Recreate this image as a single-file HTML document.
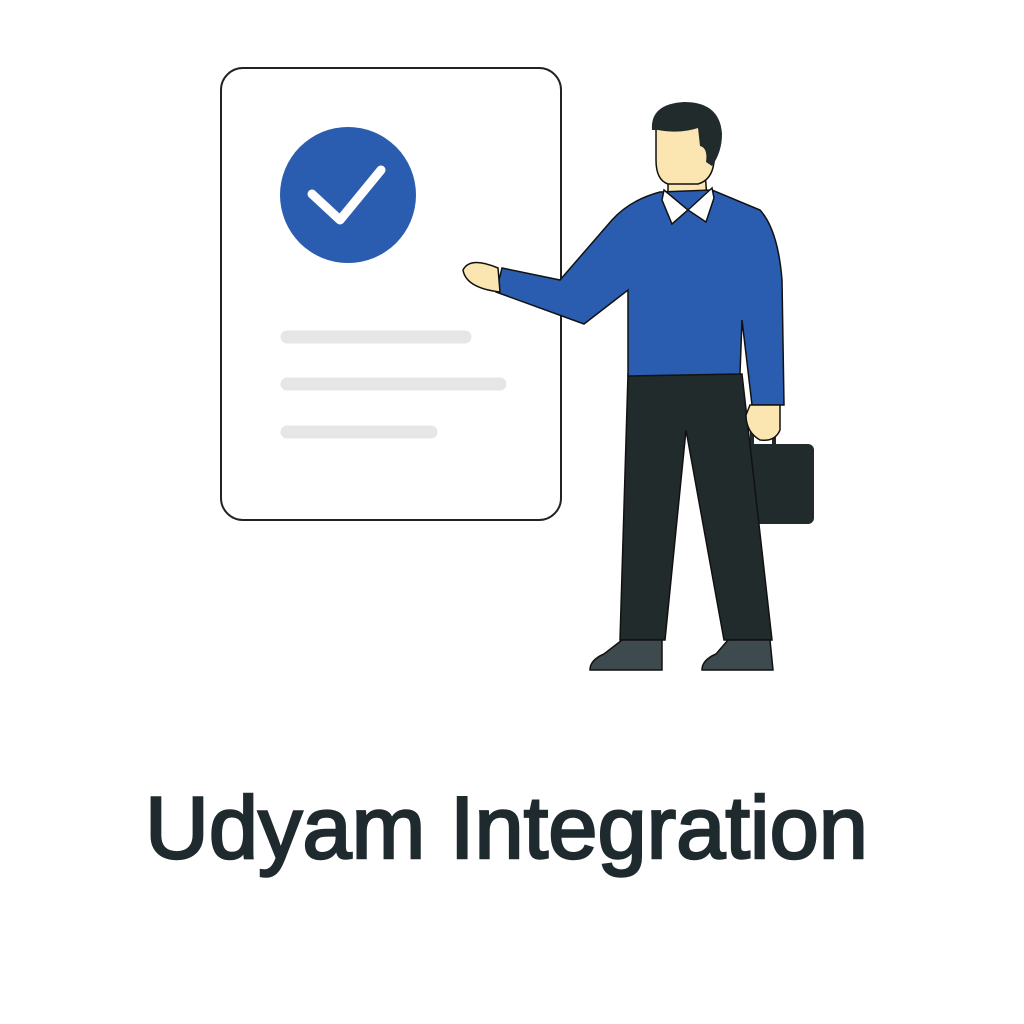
<!DOCTYPE html>
<html><head><meta charset="utf-8"><style>html,body{margin:0;padding:0;background:#fff}svg{display:block}</style></head>
<body>
<svg width="1024" height="1024" viewBox="0 0 1024 1024" xmlns="http://www.w3.org/2000/svg">
<rect width="1024" height="1024" fill="#fff"/>
<rect x="221" y="68" width="340" height="452" rx="22" fill="#fff" stroke="#222" stroke-width="2"/>
<circle cx="348" cy="195" r="68" fill="#2a5db0"/>
<polyline points="312,194 340,220 381,170" fill="none" stroke="#fff" stroke-width="9" stroke-linecap="round" stroke-linejoin="round"/>
<line x1="287" y1="337" x2="465" y2="337" stroke="#e6e6e6" stroke-width="13" stroke-linecap="round"/>
<line x1="287" y1="384" x2="500" y2="384" stroke="#e6e6e6" stroke-width="13" stroke-linecap="round"/>
<line x1="287" y1="432" x2="431" y2="432" stroke="#e6e6e6" stroke-width="13" stroke-linecap="round"/>
<path d="M752,445 L752,432 Q752,428 756,428 L770,428 Q774,428 774,432 L774,445" fill="none" stroke="#222b2c" stroke-width="4"/>
<rect x="740" y="444" width="74" height="80" rx="6" fill="#222b2c"/>
<path d="M628,374 L742,374 L772,640 L724,640 L686,430 L665,640 L620,640 Z" fill="#222b2c" stroke="#111" stroke-width="1.5"/>
<path d="M622,640 L662,640 L662,670 L590,670 Q590,660 604,654 Z" fill="#3d4a4e" stroke="#111" stroke-width="1.5"/>
<path d="M728,640 L770,640 L773,670 L702,670 Q702,660 716,654 Z" fill="#3d4a4e" stroke="#111" stroke-width="1.5"/>
<path d="M668,170 L705,170 L707,200 L668,200 Z" fill="#fbe6b2" stroke="#111" stroke-width="1.5"/>
<path d="M660,192 L712,190 L760,210 Q778,230 782,280 L784,405 L752,405 L742,320 L740,374 L628,376 L628,290 L584,324 L496,292 L502,268 L560,280 L612,220 Q630,200 660,192 Z" fill="#2a5db0" stroke="#111" stroke-width="1.5"/>
<path d="M664,190 L688,210 L672,224 L662,200 Z" fill="#fff" stroke="#111" stroke-width="1.5"/>
<path d="M712,188 L688,210 L706,222 L714,198 Z" fill="#fff" stroke="#111" stroke-width="1.5"/>
<path d="M498,268 Q470,256 463,270 Q466,288 500,292 Z" fill="#fbe6b2" stroke="#111" stroke-width="1.5"/>
<path d="M750,405 L780,405 L780,430 Q775,442 760,440 Q746,432 746,415 Z" fill="#fbe6b2" stroke="#111" stroke-width="1.5"/>
<path d="M656,128 Q656,112 672,110 L706,112 Q716,130 714,162 Q712,180 698,184 L668,184 Q656,180 656,160 Z" fill="#fbe6b2" stroke="#111" stroke-width="1.5"/>
<path d="M652,130 Q650,104 684,102 Q720,102 722,134 Q722,152 712,166 L706,162 Q708,148 700,146 L698,128 Q680,134 658,130 Z" fill="#222b2c"/>
<text x="145" y="858" textLength="723" lengthAdjust="spacingAndGlyphs" font-family="Liberation Sans, sans-serif" font-size="88" fill="#1f2a2e" stroke="#1f2a2e" stroke-width="2.5">Udyam Integration</text>
</svg>
</body></html>
